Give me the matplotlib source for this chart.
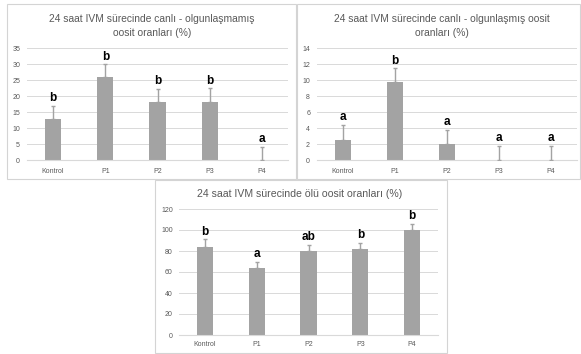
import matplotlib

matplotlib.use("Agg")
import matplotlib.pyplot as plt
from matplotlib.patches import Rectangle

W_PX, H_PX = 581, 354
categories = ["Kontrol", "P1", "P2", "P3", "P4"]

# panel 1: canlı - olgunlaşmamış
immature_vals = [12.8, 25.8, 18.0, 18.1, 0.0]
immature_err = [4.2, 4.2, 4.3, 4.4, 4.2]
immature_letters = ["b", "b", "b", "b", "a"]

# panel 2: canlı - olgunlaşmış
mature_vals = [2.5, 9.7, 2.0, 0.0, 0.0]
mature_err = [1.9, 1.8, 1.8, 1.8, 1.8]
mature_letters = ["a", "b", "a", "a", "a"]

# panel 3: ölü
dead_vals = [84.0, 64.0, 80.0, 82.0, 100.0]
dead_err = [7.0, 6.0, 6.0, 6.0, 6.0]
dead_letters = ["b", "a", "ab", "b", "b"]

BAR = "#a3a3a3"
GRID = "#d9d9d9"
TXT = "#595959"
plt.rcParams["font.family"] = ["Liberation Sans", "DejaVu Sans"]

fig = plt.figure(figsize=(W_PX / 100, H_PX / 100), dpi=100)


def px_axes(l, r, t, b):
    return fig.add_axes([l / W_PX, 1 - b / H_PX, (r - l) / W_PX, (b - t) / H_PX])


def box(l, r, t, b):
    fig.patches.append(Rectangle((l / W_PX, 1 - b / H_PX), (r - l) / W_PX, (b - t) / H_PX,
                                 transform=fig.transFigure, fill=False,
                                 edgecolor="#d4d4d4", lw=0.8))


def panel(ax, vals, errs, letters, ymax, step, title, tx, ty, ypad, xpad, tsize):
    x = range(len(categories))
    ax.bar(x, vals, width=0.31, color=BAR, zorder=2)
    ax.errorbar(x, vals, yerr=[[0] * len(errs), errs], fmt="none", ecolor=BAR,
                elinewidth=1.0, capsize=1.5, capthick=1.0, zorder=3)
    for i, (v, e, lt) in enumerate(zip(vals, errs, letters)):
        ax.annotate(lt, (i, v + e), xytext=(0, 1), textcoords="offset points",
                    ha="center", va="bottom", fontsize=8.5, fontweight="bold", color="black")
    ax.set_xlim(-0.5, len(categories) - 0.5)
    ax.set_ylim(0, ymax)
    ax.set_yticks(range(0, ymax + 1, step))
    ax.set_xticks(list(x))
    ax.set_xticklabels(categories)
    ax.tick_params(length=0, labelsize=5, colors=TXT)
    ax.tick_params(axis="y", pad=ypad)
    ax.tick_params(axis="x", pad=xpad)
    ax.grid(axis="y", color=GRID, lw=0.7, zorder=0)
    for s in ("top", "right", "left"):
        ax.spines[s].set_visible(False)
    ax.spines["bottom"].set_color(GRID)
    ax.patch.set_alpha(0)
    fig.text(tx / W_PX, 1 - ty / H_PX, title, ha="center", va="center",
             fontsize=tsize, color=TXT, linespacing=1.55)


box(7, 296, 4, 179)
box(297, 580, 4, 179)
box(155, 447, 180, 353)

ax1 = px_axes(27, 288, 48, 160)
panel(ax1, immature_vals, immature_err, immature_letters, 35, 5,
      "24 saat IVM sürecinde canlı - olgunlaşmamış\noosit oranları (%)", 152, 26,
      5, 6, 7.4)

ax2 = px_axes(317, 577, 48, 160)
panel(ax2, mature_vals, mature_err, mature_letters, 14, 2,
      "24 saat IVM sürecinde canlı - olgunlaşmış oosit\noranları (%)", 442, 26,
      5, 6, 7.4)

ax3 = px_axes(179, 438, 209, 335)
panel(ax3, dead_vals, dead_err, dead_letters, 120, 20,
      "24 saat IVM sürecinde ölü oosit oranları (%)", 300, 194,
      4.5, 4, 7.6)

fig.savefig("out.png", dpi=100)
